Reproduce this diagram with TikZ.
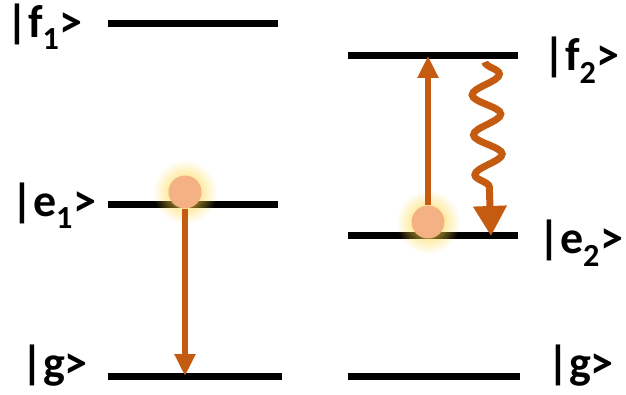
\documentclass[tikz,border=0pt]{standalone}
\usepackage{fontspec}
\setmainfont{Carlito}
\usetikzlibrary{arrows.meta,decorations.pathmorphing,fadings}
\definecolor{arrowc}{HTML}{C55A11}
\definecolor{dotc}{HTML}{F4B183}
\definecolor{glowc}{HTML}{FFD740}
\tikzfading[name=glowfade, inner color=transparent!0, outer color=transparent!100]
\tikzset{
  level/.style={line width=7pt},
  lbl/.style={font=\fontsize{46}{50}\selectfont\bfseries, inner sep=0pt, anchor=west},
  trans/.style={arrowc, line width=6pt, -{Triangle[length=22pt,width=20pt]}, shorten >=-2pt},
  dot/.style={circle, fill=dotc, minimum size=33pt, inner sep=0pt},
}
\newcommand{\glowat}[1]{\fill[glowc, path fading=glowfade] (#1) circle (32pt);}
\begin{document}
\begin{tikzpicture}[x=1pt,y=-1pt]
\useasboundingbox (0,0) rectangle (626,395);
% level end points
\coordinate (f1a) at (108,24); \coordinate (f1b) at (278,24);
\coordinate (e1a) at (108,205); \coordinate (e1b) at (278,205);
\coordinate (g1a) at (108,376); \coordinate (g1b) at (282,376);
\coordinate (f2a) at (348,56); \coordinate (f2b) at (518,56);
\coordinate (e2a) at (348,236); \coordinate (e2b) at (518,236);
\coordinate (g2a) at (348,376); \coordinate (g2b) at (520,376);
\draw[level] (f1a) -- (f1b);
\draw[level] (e1a) -- (e1b);
\draw[level] (g1a) -- (g1b);
\draw[level] (f2a) -- (f2b);
\draw[level] (e2a) -- (e2b);
\draw[level] (g2a) -- (g2b);
% labels
\node[lbl] (lf1) at (6,27) {|f\textsubscript{1}>};
\node[lbl] (le1) at (11,206) {|e\textsubscript{1}>};
\node[lbl] (lg1) at (21,366) {|g>};
\node[lbl] (lf2) at (543,60) {|f\textsubscript{2}>};
\node[lbl] (le2) at (538,243) {|e\textsubscript{2}>};
\node[lbl] (lg2) at (547,366) {|g>};
% glows and dots
\glowat{185,192}
\glowat{428,222}
\node[dot] (d1) at (185,192) {};
\node[dot] (d2) at (428,222) {};
% transitions
\coordinate (t1) at (185,374);
\coordinate (t2) at (428,58);
\draw[trans] (d1.south) -- (t1);
\draw[trans] (d2.north) -- (t2);
% wavy emission
\coordinate (w1) at (485,62);
\coordinate (w2) at (491,236);
\draw[arrowc, line width=7pt, -{Triangle[length=30pt,width=32pt]},
  decorate, decoration={snake, amplitude=14pt, segment length=40pt, post length=36pt}]
  (w1) -- (w2);
\end{tikzpicture}
\end{document}
